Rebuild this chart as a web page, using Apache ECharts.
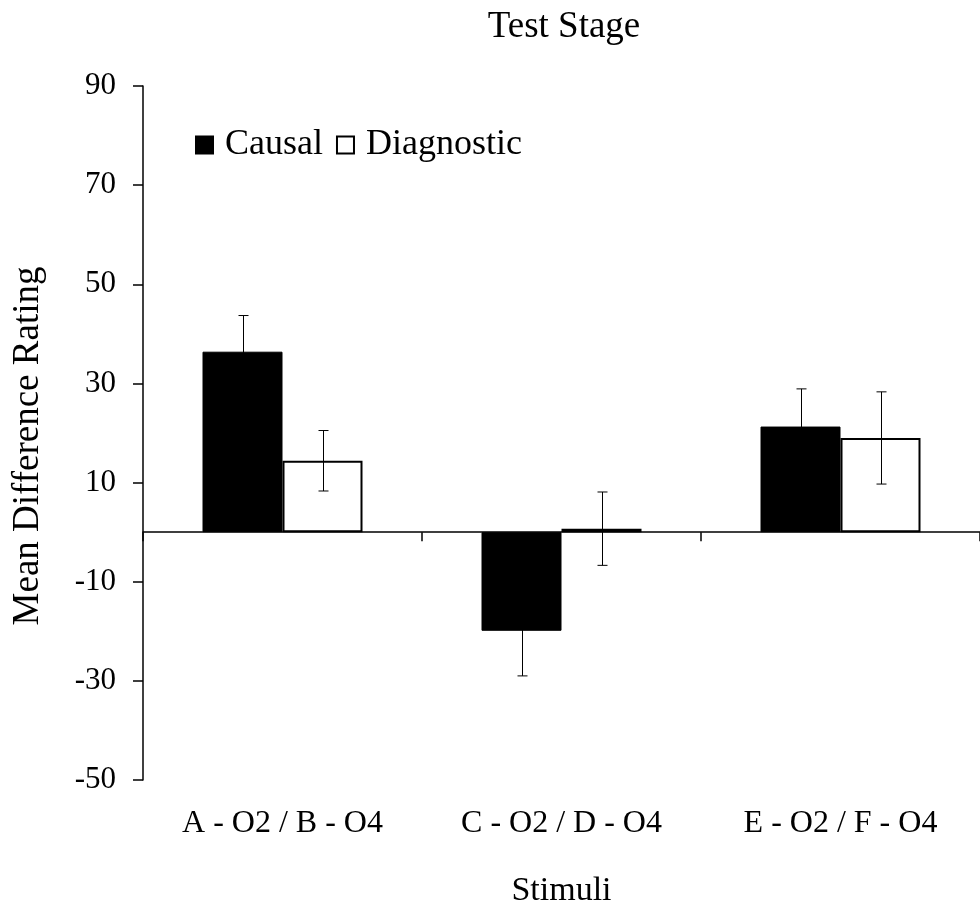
<!DOCTYPE html>
<html>
<head>
<meta charset="utf-8">
<script src="https://cdn.jsdelivr.net/npm/echarts@6/dist/echarts.min.js"></script>
<style>
  html, body { margin: 0; padding: 0; background: #fff; }
  #chart { width: 980px; height: 913px; }
</style>
</head>
<body>
<div id="chart"></div>
<script>
(function (window, document, echarts) {

    var FONT = 'Liberation Serif';

    // data
    var categories = ['A - O2 / B - O4', 'C - O2 / D - O4', 'E - O2 / F - O4'];
    var causal = [36.4, -19.9, 21.3];
    var causalErr = [7.3, 9.1, 7.6];
    var diagnostic = [14.4, 0.7, 19.0];
    var diagnosticErr = [6.1, 7.4, 9.3];
    var yTicks = [-50, -30, -10, 10, 30, 50, 70, 90];

    var BAR_W = 80;

    function errData(vals, errs) {
        return vals.map(function (v, i) { return [i, v, errs[i]]; });
    }

    // whisker with caps, shifted onto the bar it belongs to
    function errRender(shift) {
        return function (params, api) {
            var i = api.value(0), v = api.value(1), e = api.value(2);
            var hi = api.coord([i, v + e]);
            var lo = api.coord([i, v - e]);
            var x = Math.round(hi[0] + shift) + 0.5;
            var st = { stroke: '#000', lineWidth: 1, fill: null };
            return {
                type: 'group',
                children: [
                    { type: 'line', shape: { x1: x, y1: hi[1], x2: x, y2: lo[1] }, style: st },
                    { type: 'line', shape: { x1: x - 5, y1: hi[1], x2: x + 5, y2: hi[1] }, style: st },
                    { type: 'line', shape: { x1: x - 5, y1: lo[1], x2: x + 5, y2: lo[1] }, style: st }
                ]
            };
        };
    }

    var option = {
        animation: false,
        title: {
            text: 'Test Stage',
            left: 559,
            top: 4,
            textAlign: 'center',
            textStyle: { fontFamily: FONT, fontSize: 37, fontWeight: 'normal', color: '#000' }
        },
        legend: {
            left: 195,
            top: 127,
            padding: 0,
            icon: 'rect',
            itemWidth: 17,
            itemHeight: 17,
            itemGap: 13,
            data: ['Causal', 'Diagnostic'],
            textStyle: { fontFamily: FONT, fontSize: 36, color: '#000', padding: [0, 0, 0, 7] }
        },
        grid: { left: 143, right: -3, top: 86, bottom: 132 },
        xAxis: [
            {
                type: 'category',
                data: categories,
                position: 'bottom',
                axisLine: { show: false, onZero: false },
                axisTick: { show: false },
                axisLabel: { fontFamily: FONT, fontSize: 32, color: '#000', margin: 28 },
                name: 'Stimuli',
                nameLocation: 'middle',
                nameGap: 94,
                nameTextStyle: { fontFamily: FONT, fontSize: 34, color: '#000' }
            },
            {
                type: 'category',
                data: categories,
                position: 'bottom',
                axisLine: { show: true, onZero: true, lineStyle: { color: '#000', width: 1.5 } },
                axisTick: { show: true, length: 9, lineStyle: { color: '#000', width: 1.5 } },
                axisLabel: { show: false }
            }
        ],
        yAxis: {
            type: 'value',
            min: -50,
            max: 90,
            interval: 20,
            splitLine: { show: false },
            axisLine: { show: true, lineStyle: { color: '#000', width: 1.5 } },
            axisTick: { show: true, length: 10, lineStyle: { color: '#000', width: 1.5 } },
            axisLabel: {
                fontFamily: FONT, fontSize: 31, color: '#000', margin: 27,
                customValues: yTicks
            }
        },
        graphic: [{
            type: 'text',
            x: 28,
            y: 446,
            rotation: Math.PI / 2,
            style: {
                text: 'Mean Difference Rating',
                font: '37px "Liberation Serif"',
                fill: '#000',
                align: 'center',
                verticalAlign: 'middle'
            }
        }],
        series: [
            {
                name: 'Causal',
                type: 'bar',
                data: causal,
                barWidth: BAR_W,
                barGap: '0%',
                itemStyle: { color: '#000', borderColor: '#000', borderWidth: 1 }
            },
            {
                name: 'Diagnostic',
                type: 'bar',
                data: diagnostic,
                barWidth: BAR_W,
                barGap: '0%',
                itemStyle: { color: '#fff', borderColor: '#000', borderWidth: 2 }
            },
            {
                type: 'custom',
                data: errData(causal, causalErr),
                renderItem: errRender(-BAR_W / 2),
                z: 5,
                silent: true
            },
            {
                type: 'custom',
                data: errData(diagnostic, diagnosticErr),
                renderItem: errRender(BAR_W / 2),
                z: 5,
                silent: true
            }
        ]
    };

    var myChart = echarts.init(document.getElementById('chart'));
    myChart.setOption(option);

})(window, document, echarts);
</script>
</body>
</html>
